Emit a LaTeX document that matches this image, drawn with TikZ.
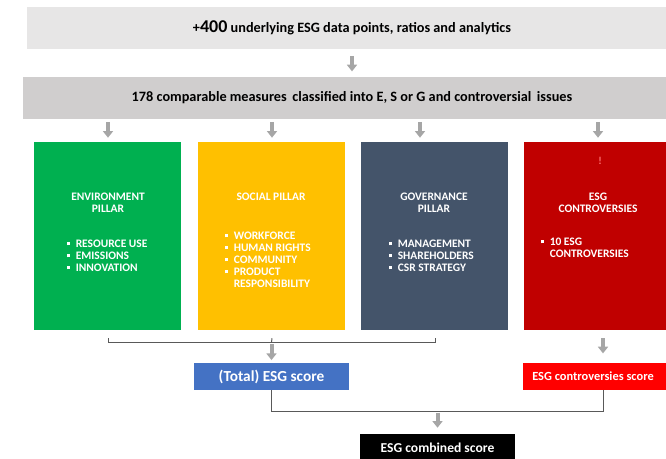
\documentclass[tikz,border=0pt]{standalone}
\usepackage{fontspec}
\setmainfont{Carlito}
\usetikzlibrary{arrows.meta, positioning, calc}

\newlength\pxu
\setlength\pxu{0.75pt}
% small square bullet
\newcommand\blt{\makebox[9\pxu][l]{\rule[2.4\pxu]{3\pxu}{3\pxu}}}

\definecolor{bandlight}{HTML}{E7E6E6}
\definecolor{banddark}{HTML}{D0CECE}
\definecolor{envgreen}{HTML}{00B050}
\definecolor{socyellow}{HTML}{FFC000}
\definecolor{govslate}{HTML}{44546A}
\definecolor{condred}{HTML}{C00000}
\definecolor{totblue}{HTML}{4472C4}
\definecolor{conred}{HTML}{FF0000}
\definecolor{arrowgray}{HTML}{A6A6A6}
\definecolor{linkgray}{HTML}{595959}

\begin{document}
\begin{tikzpicture}[x=0.75pt, y=-0.75pt,
    band/.style={rectangle, inner sep=0, minimum height=42\pxu, font=\bfseries\fontsize{10.7}{12}\selectfont},
    pillar/.style={rectangle, inner sep=0, minimum width=147\pxu, minimum height=188\pxu},
    ptitle/.style={text=white, align=center, anchor=north, inner sep=0, font=\bfseries\fontsize{8.6}{9}\selectfont},
    plist/.style={text=white, align=left, anchor=north west, inner sep=0, font=\bfseries\fontsize{8.6}{9}\selectfont},
    score/.style={rectangle, inner sep=0, minimum height=27\pxu, text=white},
    grayarrow/.style={draw=arrowgray, line width=3pt, -{Triangle[width=7.5pt, length=5pt]}},
    link/.style={draw=linkgray, line width=0.75pt}]
    \clip (0,0) rectangle (666,459);

    % data bands
    \node[band, fill=bandlight, minimum width=650\pxu] (src) at (352,28) {+{\fontsize{13.5}{14}\selectfont 400} underlying ESG data points, ratios and analytics};
    \node[band, fill=banddark, minimum width=658\pxu] (msr) at (352,98) {178 comparable measures\, classified into E, S or G and controversial\, issues};

    % pillars
    \node[pillar, fill=envgreen] (env) at (107.5,236) {};
    \node[pillar, fill=socyellow] (soc) at (271.5,236) {};
    \node[pillar, fill=govslate] (gov) at (434.5,236) {};
    \node[pillar, fill=condred] (con) at (597.5,236) {};

    \node[ptitle] (envtitle) at (108,193) {ENVIRONMENT\\PILLAR};
    \node[ptitle] (soctitle) at (271,193) {SOCIAL PILLAR};
    \node[ptitle] (govtitle) at (434,193) {GOVERNANCE\\PILLAR};
    \node[ptitle] (contitle) at (598,193) {ESG\\CONTROVERSIES};
    \node[text=red!55!white, inner sep=0, font=\bfseries\fontsize{8}{9}\selectfont] (conmark) at (600,161) {!};

    \node[plist] (envlist) at (66.5,240) {\blt RESOURCE USE\\\blt EMISSIONS\\\blt INNOVATION};
    \node[plist] (soclist) at (224.5,232) {\blt WORKFORCE\\\blt HUMAN RIGHTS\\\blt COMMUNITY\\\blt PRODUCT\\\hspace*{9\pxu}RESPONSIBILITY};
    \node[plist] (govlist) at (388.5,240) {\blt MANAGEMENT\\\blt SHAREHOLDERS\\\blt CSR STRATEGY};
    \node[plist] (conlist) at (540.5,238) {\blt 10 ESG\\\hspace*{9\pxu}CONTROVERSIES};

    % scores
    \node[score, fill=totblue, minimum width=155\pxu, font=\bfseries\fontsize{11.5}{13}\selectfont] (total) at (271.5,376.5) {(Total) ESG score};
    \node[score, fill=conred, minimum width=160\pxu, font=\bfseries\fontsize{9.3}{11}\selectfont] (conscore) at (603,376.5) {\hspace*{-20\pxu}ESG controversies score};
    \node[score, fill=black, minimum width=155\pxu, minimum height=28\pxu, font=\bfseries\fontsize{10.2}{12}\selectfont] (comb) at (437.5,448) {ESG combined score};

    % arrows
    \draw[grayarrow, shorten <=5pt, shorten >=4pt] (src.south) -- (msr.north);
    \foreach \p/\dx in {env/0.5, soc/0.5, gov/-14.5, con/0.5}
        \draw[grayarrow, shorten <=2pt, shorten >=3pt] ($(msr.south -| \p.north)+(\dx,0)$) -- ($(\p.north)+(\dx,0)$);

    % brackets
    \draw[link] ($(env.south)+(0.5,8)$) -- ++(0,4) coordinate (pjoin) -| ($(gov.south)+(0.5,8)$);
    \draw[link] ($(soc.south)+(0.5,8)$) -- (pjoin -| soc.south);
    \draw[grayarrow, shorten <=1.5pt, shorten >=2pt] (pjoin -| total.north) -- (total.north);
    \draw[grayarrow, shorten <=6pt, shorten >=7pt] (con.south -| conscore.north) -- (conscore.north);
    \draw[link] (total.south) -- ++(0,21) coordinate (sjoin) -| (conscore.south);
    \draw[grayarrow, shorten <=1pt, shorten >=4.5pt] (sjoin -| comb.north) -- (comb.north);
\end{tikzpicture}
\end{document}
